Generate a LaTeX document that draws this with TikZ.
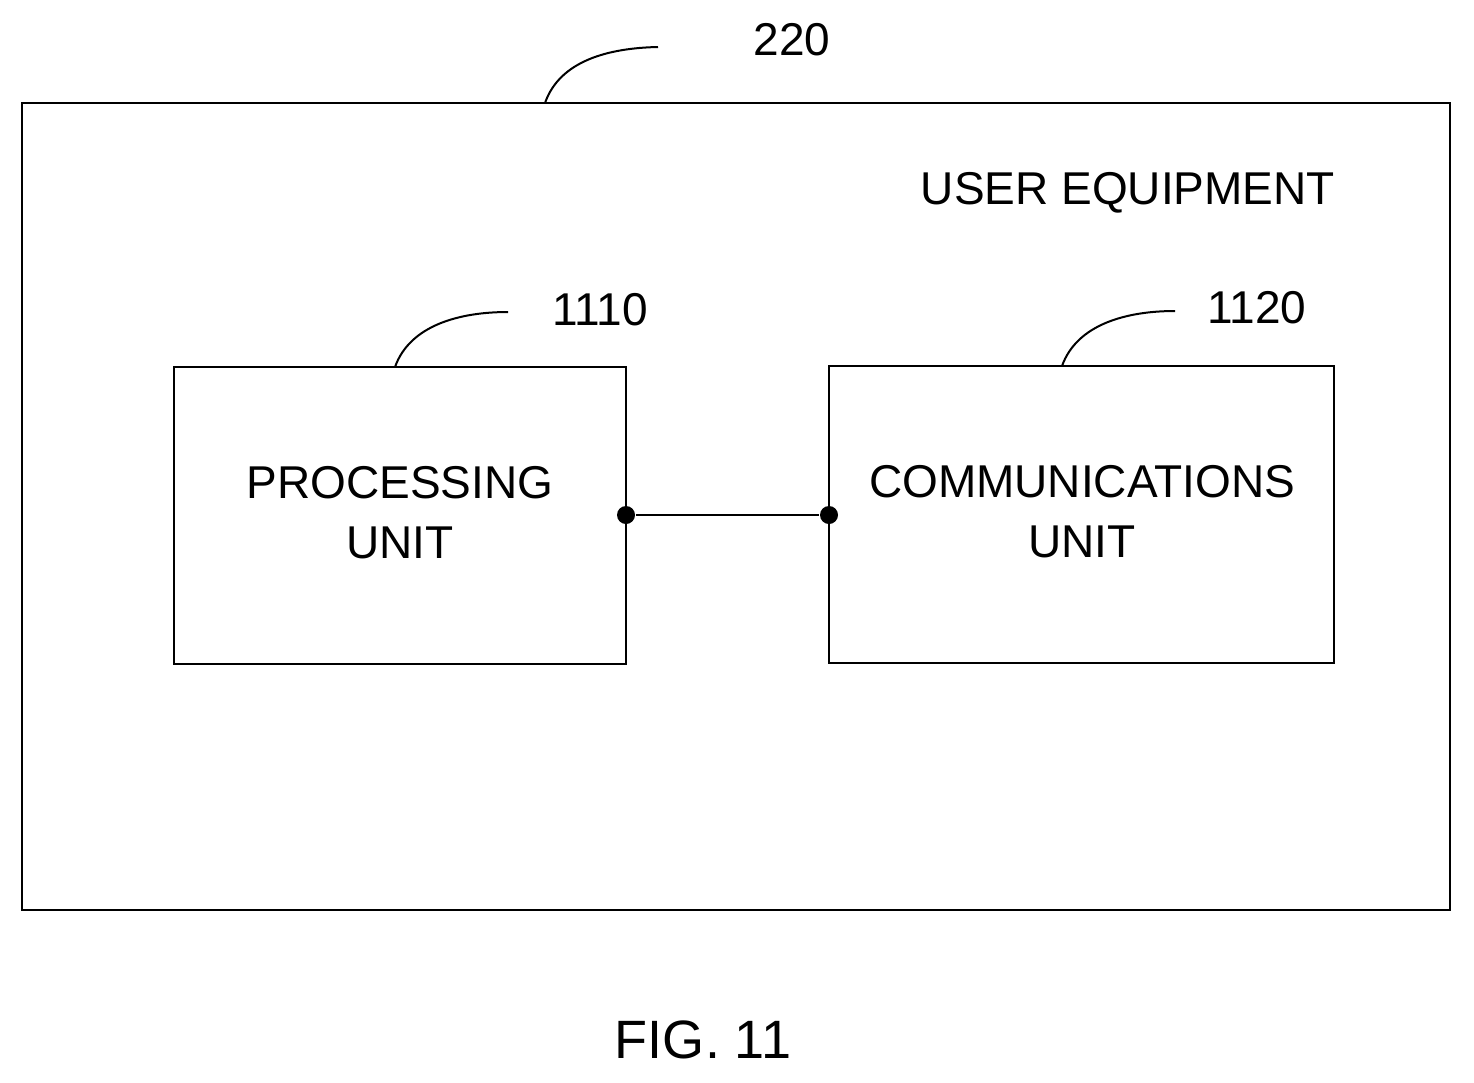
\documentclass[tikz,border=0pt]{standalone}
\usepackage{fontspec}
\setmainfont{Liberation Sans}
\begin{document}
\begin{tikzpicture}[x=1pt,y=-1pt,line width=2.5pt,
  box/.style={draw,line width=2.5pt},
  txt/.style={font=\fontsize{46}{60}\selectfont,align=center,inner sep=0},
  lead/.style={line width=2pt},
  dot/.style={circle,fill,inner sep=0,minimum size=18pt}]
\useasboundingbox (0,0) rectangle (1474,1082);
\draw[box] (22,103) rectangle (1450,910);
\coordinate (ue) at (545,103);
\node[txt] (l220) at (792,40) {220};
\draw[lead] (ue) .. controls (560,60) and (610,48) .. (658,47);
\node[txt] (ueq) at (1128,193) {USER EQUIPMENT};
\node[box,minimum width=452pt,minimum height=297pt] (pu) at (400,515.5) {};
\node[txt] at (400,513) {PROCESSING\\UNIT};
\node[box,minimum width=505pt,minimum height=297pt] (cu) at (1081.5,514.5) {};
\node[txt] at (1082,512) {COMMUNICATIONS\\UNIT};
\node[txt] (l1110) at (600,310) {1110};
\node[txt] (l1120) at (1257,308) {1120};
\draw[lead] (395,367) .. controls (410,325) and (460,312) .. (508,312);
\draw[lead] (1062,366) .. controls (1077,324) and (1127,311) .. (1175,311);
\node[dot] (d1) at (626,515) {};
\node[dot] (d2) at (829,515) {};
\draw[line width=2pt] (d1) -- (d2);
\node[txt,font=\fontsize{54}{60}\selectfont] (fig) at (703,1040) {FIG. 11};
\end{tikzpicture}
\end{document}
